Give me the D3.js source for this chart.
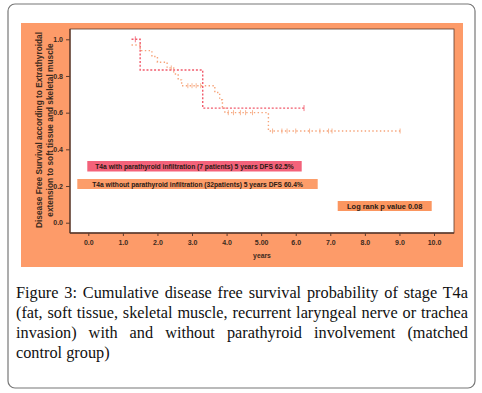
<!DOCTYPE html>
<html>
<head>
<meta charset="utf-8">
<script src="https://cdn.jsdelivr.net/npm/d3@7"></script>
<style>
  body { margin: 0; background: #fff; }
  #wrap { position: relative; width: 482px; height: 393px; }
  #caption {
    position: absolute; left: 16px; top: 283px; width: 452px;
    font-family: "Liberation Serif", "DejaVu Serif", serif; font-size: 16.3px;
    line-height: 20px; text-align: justify; color: #111;
  }
</style>
</head>
<body>
<div id="wrap">
  <svg id="chart" width="482" height="393"></svg>
  <div id="caption">Figure 3: Cumulative disease free survival probability of stage T4a (fat, soft tissue, skeletal muscle, recurrent laryngeal nerve or trachea invasion) with and without parathyroid involvement (matched control group)</div>
</div>
<script>
// x ticks (years), y ticks (survival)
const xTicks = [0, 1, 2, 3, 4, 5, 6, 7, 8, 9, 10];
const xTickLabels = ["0.0", "1.0", "2.0", "3.0", "4.0", "5.00", "6.0", "7.0", "8.0", "9.0", "10.0"];
const yTicks = [0, 0.2, 0.4, 0.6, 0.8, 1.0];

// T4a with parathyroid infiltration (7 patients)
const redTimes = [1.25, 1.5, 3.31];
const redSurv = [1.0, 0.833, 0.625];
const redEnd = 6.24;
const redCensor = [1.36, 6.24];

// T4a without parathyroid infiltration (32 patients)
const orTimes = [1.25, 1.5, 1.84, 2.0, 2.28, 2.47, 2.6, 2.7, 3.66, 3.8, 3.88, 3.95, 5.21];
const orSurv = [0.969, 0.938, 0.906, 0.875, 0.844, 0.811, 0.779, 0.747, 0.71, 0.67, 0.632, 0.60, 0.50];
const orEnd = 9.02;
const orCensor = [2.4, 2.88, 3.0, 3.12, 3.25, 4.05, 4.2, 4.4, 4.55, 4.75, 5.33, 5.6, 5.75, 6.0, 6.4, 6.7, 6.95, 7.05, 9.02];

const legendRed = "T4a with parathyroid infiltration (7 patients) 5 years DFS 62.5%";
const legendOr = "T4a without parathyroid infiltration (32patients) 5 years DFS 60.4%";
const logRank = "Log rank p value 0.08";

const svg = d3.select("#chart");
const axisCol = "#5b3a2c";
const fontSans = "Liberation Sans, Arial, sans-serif";

// outer frame
svg.append("rect").attr("x", 8).attr("y", 4).attr("width", 467).attr("height", 384)
  .attr("rx", 7).attr("fill", "#fff").attr("stroke", "#777").attr("stroke-width", 1.2);

// orange panel
svg.append("rect").attr("x", 21).attr("y", 23).attr("width", 442).attr("height", 244)
  .attr("fill", "#fd9b69");

// plot area
const plot = { left: 70, top: 29, right: 454, bottom: 233 };
svg.append("rect").attr("x", plot.left).attr("y", plot.top)
  .attr("width", plot.right - plot.left).attr("height", plot.bottom - plot.top)
  .attr("fill", "#fff").attr("stroke", axisCol).attr("stroke-width", 0.8);

const x = d3.scaleLinear().domain([0, 10]).range([88.3, 434]);
const y = d3.scaleLinear().domain([0, 1]).range([222.7, 39.3]);

// axes
const xAxis = d3.axisBottom(x).tickValues(xTicks).tickSize(3).tickFormat((d, i) => xTickLabels[i]);
const gx = svg.append("g").attr("transform", `translate(0,${plot.bottom})`).call(xAxis);
gx.select(".domain").remove();
gx.selectAll("line").attr("stroke", axisCol);
gx.selectAll("text").attr("font-family", fontSans).attr("font-size", 7)
  .attr("font-weight", "bold").attr("fill", "#3a2a20").attr("dy", "0.85em");
svg.append("line").attr("x1", plot.left).attr("x2", plot.right)
  .attr("y1", plot.bottom).attr("y2", plot.bottom).attr("stroke", axisCol).attr("stroke-width", 1.3);

const yAxis = d3.axisLeft(y).tickValues(yTicks).tickSize(4).tickFormat(d3.format(".1f"));
const gy = svg.append("g").attr("transform", `translate(${plot.left},0)`).call(yAxis);
gy.select(".domain").remove();
gy.selectAll("line").attr("stroke", axisCol);
gy.selectAll("text").attr("font-family", fontSans).attr("font-size", 7)
  .attr("font-weight", "bold").attr("fill", "#3a2a20");
svg.append("line").attr("x1", plot.left).attr("x2", plot.left)
  .attr("y1", plot.top).attr("y2", plot.bottom).attr("stroke", axisCol).attr("stroke-width", 1.3);

// axis titles
svg.append("text").attr("x", 262).attr("y", 258).attr("text-anchor", "middle")
  .attr("font-family", fontSans).attr("font-size", 6.8).attr("font-weight", "bold")
  .attr("fill", "#3a2a20").text("years");
const yt = svg.append("text").attr("transform", "translate(42,130) rotate(-90)")
  .attr("text-anchor", "middle").attr("font-family", fontSans).attr("font-size", 8.3)
  .attr("font-weight", "bold").attr("fill", "#3a2a20");
yt.append("tspan").attr("x", 0).attr("dy", 0).text("Disease Free Survival according to Extrathyroidal");
yt.append("tspan").attr("x", 0).attr("dy", "1.33em").text("extension to soft tissue and skeletal muscle");

// step curves
function stepPath(times, surv, end) {
  const pts = [];
  times.forEach((t, i) => {
    if (i > 0) pts.push([t, surv[i - 1]]);
    pts.push([t, surv[i]]);
  });
  pts.push([end, surv[surv.length - 1]]);
  return d3.line().x(d => x(d[0])).y(d => y(d[1]))(pts);
}
function survAt(times, surv, t) {
  let s = surv[0];
  times.forEach((tt, i) => { if (tt <= t) s = surv[i]; });
  return s;
}

svg.append("path").attr("d", stepPath(orTimes, orSurv, orEnd))
  .attr("fill", "none").attr("stroke", "#f6a47a").attr("stroke-width", 1.4)
  .attr("stroke-dasharray", "1.4,2.4");
svg.selectAll(".cor").data(orCensor).join("line").attr("class", "cor")
  .attr("x1", d => x(d)).attr("x2", d => x(d))
  .attr("y1", d => y(survAt(orTimes, orSurv, d)) - 2.5)
  .attr("y2", d => y(survAt(orTimes, orSurv, d)) + 2.5)
  .attr("stroke", "#f6a47a").attr("stroke-width", 0.8);

svg.append("path").attr("d", stepPath(redTimes, redSurv, redEnd))
  .attr("fill", "none").attr("stroke", "#f15b6c").attr("stroke-width", 1.4)
  .attr("stroke-dasharray", "2,1.8");
svg.selectAll(".cred").data(redCensor).join("line").attr("class", "cred")
  .attr("x1", d => x(d)).attr("x2", d => x(d))
  .attr("y1", d => y(survAt(redTimes, redSurv, d)) - 3)
  .attr("y2", d => y(survAt(redTimes, redSurv, d)) + 3)
  .attr("stroke", "#f15b6c").attr("stroke-width", 0.8);

// legend boxes
const boxes = [
  { x0: 87.3, x1: 301.7, y0: 161, y1: 171.5, fill: "#f3627a", text: legendRed, size: 6.7 },
  { x0: 77.3, x1: 317.7, y0: 179, y1: 189, fill: "#fc9d6a", text: legendOr, size: 6.7 },
  { x0: 337.7, x1: 431.7, y0: 201, y1: 211, fill: "#fb9660", text: logRank, size: 7.4 }
];
boxes.forEach(b => {
  svg.append("rect").attr("x", b.x0).attr("y", b.y0).attr("width", b.x1 - b.x0)
    .attr("height", b.y1 - b.y0).attr("fill", b.fill);
  svg.append("text").attr("x", (b.x0 + b.x1) / 2).attr("y", (b.y0 + b.y1) / 2 + 2.5)
    .attr("text-anchor", "middle").attr("font-family", fontSans).attr("font-size", b.size)
    .attr("font-weight", "bold").attr("fill", "#2a1a14").text(b.text);
});
</script>
</body>
</html>
